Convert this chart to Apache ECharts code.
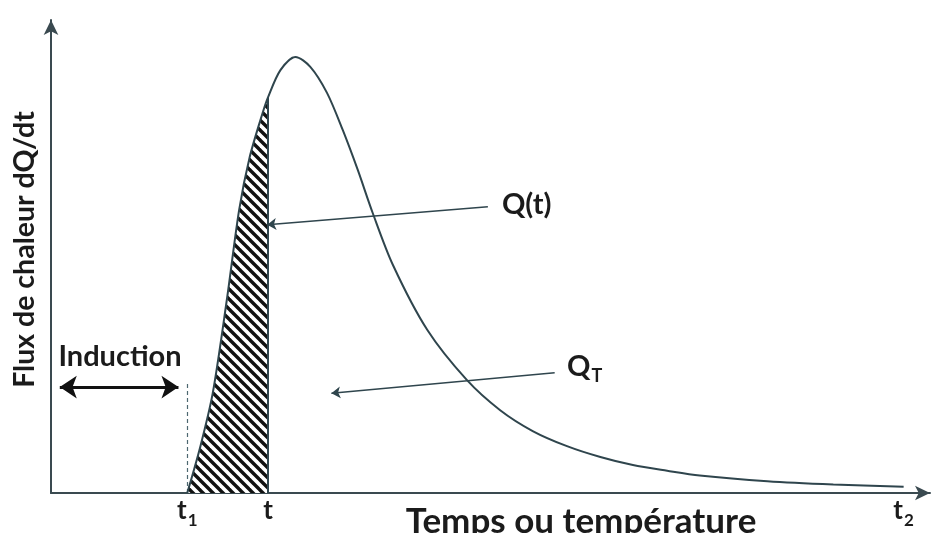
<!DOCTYPE html>
<html>
<head>
<meta charset="utf-8">
<script src="https://cdn.jsdelivr.net/npm/echarts@6/dist/echarts.min.js"></script>
<style>
  html, body { margin: 0; padding: 0; background: #ffffff; }
  #chart { width: 937px; height: 533px; }
</style>
</head>
<body>
<div id="chart"></div>
<script>
// Heat-flow curve dQ/dt against time (arbitrary units, 0-100 on both axes)
const curveTime = [15.5, 17.0, 18.4, 20.0, 21.4, 22.6, 24.1, 24.7, 26.1, 27.8, 29.5, 31.4, 33.2, 34.9, 36.6, 38.9, 42.8, 47.3, 51.1, 54.8, 58.7, 62.5, 66.2, 70.1, 73.8, 81.5, 89.0, 97.0];
const curveFlux = [0, 9.9, 21.1, 40.8, 59.8, 71.0, 80.5, 83.7, 89.4, 92.2, 90.1, 84.6, 76.7, 68.3, 59.2, 48.2, 34.5, 23.9, 17.5, 13.1, 9.9, 7.6, 5.9, 4.7, 3.7, 2.5, 1.8, 1.3];

// Characteristic times: end of induction (t1), current time (t), end of reaction (t2)
const tickValues = [15.5, 24.7, 97.0];
const tickMain = ['t', 't', 't'];
const tickSub = ['1', '', '2'];

const FONT = 'Lato, "Open Sans", sans-serif';
const INK = '#1b1b1b';
const CURVE = '#2f454d';

const t1 = tickValues[0];
const tNow = tickValues[1];
const fluxAtT = curveFlux[curveTime.indexOf(tNow)];

const curve = curveTime.map((x, i) => [x, curveFlux[i]]);
const hatched = curve.filter(p => p[0] <= tNow);

// diagonal hatch tile for the integrated area Q(t)
function hatchTile() {
  const s = 10;
  const c = document.createElement('canvas');
  c.width = s; c.height = s;
  const g = c.getContext('2d');
  g.fillStyle = '#ffffff';
  g.fillRect(0, 0, s, s);
  g.strokeStyle = '#111111';
  g.lineWidth = 3.4;
  g.lineCap = 'square';
  for (let k = -1; k <= 1; k++) {
    g.beginPath();
    g.moveTo(k * s, 0);
    g.lineTo(k * s + s, s);
    g.stroke();
  }
  return c;
}

const chart = echarts.init(document.getElementById('chart'), null, { renderer: 'canvas' });

const sub = (txt) => txt ? '{s|' + txt + '}' : '';

chart.setOption({
  animation: false,
  backgroundColor: '#ffffff',
  grid: { left: 51, right: 7, top: 20, bottom: 40, containLabel: false, outerBoundsMode: 'none' },
  xAxis: {
    type: 'value', min: 0, max: 100,
    name: 'Temps ou température',
    nameLocation: 'middle',
    nameGap: 11,
    nameMoveOverlap: false,
    nameTextStyle: { fontFamily: FONT, fontWeight: 'bold', fontSize: 35, color: INK, padding: [0, 0, 0, 181] },
    axisLine: { show: true, symbol: ['none', 'arrow'], symbolSize: [11, 15], lineStyle: { color: '#3a4a50', width: 2 } },
    axisTick: { show: false },
    splitLine: { show: false },
    axisLabel: {
      customValues: tickValues,
      margin: 5,
      formatter: (v) => {
        const i = tickValues.indexOf(v);
        return i < 0 ? '' : '{m|' + tickMain[i] + '}' + sub(tickSub[i]);
      },
      rich: {
        m: { fontFamily: FONT, fontWeight: 'bold', fontSize: 26, color: INK, lineHeight: 26, verticalAlign: 'top' },
        s: { fontFamily: FONT, fontWeight: 'bold', fontSize: 17, color: INK, lineHeight: 17, padding: [14, 0, 0, 1], verticalAlign: 'top' }
      }
    }
  },
  yAxis: {
    type: 'value', min: 0, max: 100,
    name: 'Flux de chaleur dQ/dt',
    nameLocation: 'middle',
    nameGap: 12,
    nameMoveOverlap: false,
    nameTextStyle: { fontFamily: FONT, fontWeight: 'bold', fontSize: 28.5, color: INK, padding: [0, 0, 0, 14] },
    axisLine: { show: true, symbol: ['none', 'arrow'], symbolSize: [11, 15], lineStyle: { color: '#3a4a50', width: 2 } },
    axisTick: { show: false },
    splitLine: { show: false },
    axisLabel: { show: false }
  },
  series: [
    {
      name: 'Q(t)',
      type: 'line',
      data: hatched,
      smooth: 0.3,
      symbol: 'none',
      silent: true,
      z: 1,
      lineStyle: { width: 0 },
      areaStyle: { color: { image: hatchTile(), repeat: 'repeat' }, opacity: 1 }
    },
    {
      name: 'dQ/dt',
      type: 'line',
      data: curve,
      smooth: 0.3,
      symbol: 'none',
      silent: true,
      z: 3,
      lineStyle: { color: CURVE, width: 2 }
    },
    {
      // right edge of the hatched area at t
      type: 'lines', coordinateSystem: 'cartesian2d', silent: true, z: 3,
      symbol: 'none',
      lineStyle: { color: CURVE, width: 2, opacity: 1 },
      data: [{ coords: [[tNow, 0], [tNow, fluxAtT]] }]
    },
    {
      // end of the induction period
      type: 'lines', coordinateSystem: 'cartesian2d', silent: true, z: 3,
      symbol: 'none',
      lineStyle: { color: '#4d6770', width: 1.2, type: [4, 3], opacity: 1 },
      data: [{ coords: [[t1, 0], [t1, 23.5]] }]
    },
    {
      // induction period span
      type: 'lines', coordinateSystem: 'cartesian2d', silent: true, z: 4,
      symbol: ['arrow', 'arrow'], symbolSize: 17,
      lineStyle: { color: '#111111', width: 3, opacity: 1 },
      data: [{ coords: [[1.0, 22.4], [14.5, 22.4]] }]
    },
    {
      // pointers to Q(t) and Q_T
      type: 'lines', coordinateSystem: 'cartesian2d', silent: true, z: 4,
      symbol: ['none', 'arrow'], symbolSize: 9,
      lineStyle: { color: '#2f454d', width: 1.5, opacity: 1 },
      data: [
        { coords: [[49.7, 60.5], [24.6, 56.7]] },
        { coords: [[57.3, 25.4], [31.9, 21.1]] }
      ]
    },
    {
      type: 'scatter', silent: true, clip: false, symbolSize: 0, z: 5,
      itemStyle: { opacity: 1 },
      data: [
        { value: [7.85, 28.75], label: { show: true, position: 'inside', formatter: '{m|Induction}' } },
        { value: [51.3, 60.9], label: { show: true, position: 'right', distance: 0, formatter: '{m|Q(t)}' } },
        { value: [58.7, 26.8], label: { show: true, position: 'right', distance: 0, formatter: '{m|Q}{s|T}' } }
      ],
      label: {
        opacity: 1,
        color: INK,
        rich: {
          m: { fontFamily: FONT, fontWeight: 'bold', fontSize: 29, color: INK, lineHeight: 29, verticalAlign: 'top' },
          s: { fontFamily: FONT, fontWeight: 'bold', fontSize: 18, color: INK, lineHeight: 18, padding: [15, 0, 0, 1], verticalAlign: 'top' }
        }
      }
    }
  ]
});
</script>
</body>
</html>
